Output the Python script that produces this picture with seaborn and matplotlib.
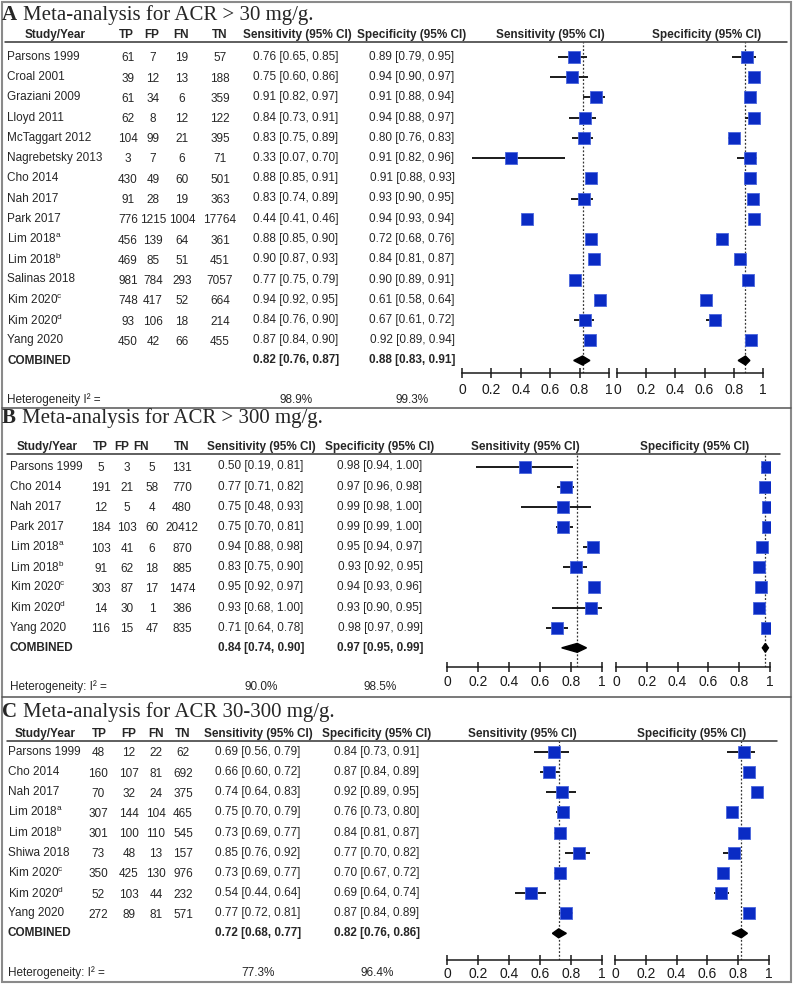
import numpy as np
import matplotlib
matplotlib.use('Agg')
import matplotlib.pyplot as plt
import seaborn as sns
from matplotlib import font_manager
from matplotlib.lines import Line2D
from matplotlib.patches import Rectangle

# ---------------- data ----------------
# panel A : ACR > 30 mg/g
a_names = ['Parsons 1999', 'Croal 2001', 'Graziani 2009', 'Lloyd 2011', 'McTaggart 2012',
           'Nagrebetsky 2013', 'Cho 2014', 'Nah 2017', 'Park 2017',
           'Lim 2018$^{a}$', 'Lim 2018$^{b}$', 'Salinas 2018', 'Kim 2020$^{c}$',
           'Kim 2020$^{d}$', 'Yang 2020']
a_tp = [61, 39, 61, 62, 104, 3, 430, 91, 776, 456, 469, 981, 748, 93, 450]
a_fp = [7, 12, 34, 8, 99, 7, 49, 28, 1215, 139, 85, 784, 417, 106, 42]
a_fn = [19, 13, 6, 12, 21, 6, 60, 19, 1004, 64, 51, 293, 52, 18, 66]
a_tn = [57, 188, 359, 122, 395, 71, 501, 363, 17764, 361, 451, 7057, 664, 214, 455]
a_sens = [0.76, 0.75, 0.91, 0.84, 0.83, 0.33, 0.88, 0.83, 0.44, 0.88, 0.90, 0.77, 0.94, 0.84, 0.87]
a_sens_lo = [0.65, 0.60, 0.82, 0.73, 0.75, 0.07, 0.85, 0.74, 0.41, 0.85, 0.87, 0.75, 0.92, 0.76, 0.84]
a_sens_hi = [0.85, 0.86, 0.97, 0.91, 0.89, 0.70, 0.91, 0.89, 0.46, 0.90, 0.93, 0.79, 0.95, 0.90, 0.90]
a_spec = [0.89, 0.94, 0.91, 0.94, 0.80, 0.91, 0.91, 0.93, 0.94, 0.72, 0.84, 0.90, 0.61, 0.67, 0.92]
a_spec_lo = [0.79, 0.90, 0.88, 0.88, 0.76, 0.82, 0.88, 0.90, 0.93, 0.68, 0.81, 0.89, 0.58, 0.61, 0.89]
a_spec_hi = [0.95, 0.97, 0.94, 0.97, 0.83, 0.96, 0.93, 0.95, 0.94, 0.76, 0.87, 0.91, 0.64, 0.72, 0.94]
a_comb_sens = [0.82, 0.76, 0.87]
a_comb_spec = [0.88, 0.83, 0.91]
a_het = ['98.9%', '99.3%']

# panel B : ACR > 300 mg/g
b_names = ['Parsons 1999', 'Cho 2014', 'Nah 2017', 'Park 2017', 'Lim 2018$^{a}$',
           'Lim 2018$^{b}$', 'Kim 2020$^{c}$', 'Kim 2020$^{d}$', 'Yang 2020']
b_tp = [5, 191, 12, 184, 103, 91, 303, 14, 116]
b_fp = [3, 21, 5, 103, 41, 62, 87, 30, 15]
b_fn = [5, 58, 4, 60, 6, 18, 17, 1, 47]
b_tn = [131, 770, 480, 20412, 870, 885, 1474, 386, 835]
b_sens = [0.50, 0.77, 0.75, 0.75, 0.94, 0.83, 0.95, 0.93, 0.71]
b_sens_lo = [0.19, 0.71, 0.48, 0.70, 0.88, 0.75, 0.92, 0.68, 0.64]
b_sens_hi = [0.81, 0.82, 0.93, 0.81, 0.98, 0.90, 0.97, 1.00, 0.78]
b_spec = [0.98, 0.97, 0.99, 0.99, 0.95, 0.93, 0.94, 0.93, 0.98]
b_spec_lo = [0.94, 0.96, 0.98, 0.99, 0.94, 0.92, 0.93, 0.90, 0.97]
b_spec_hi = [1.00, 0.98, 1.00, 1.00, 0.97, 0.95, 0.96, 0.95, 0.99]
b_comb_sens = [0.84, 0.74, 0.90]
b_comb_spec = [0.97, 0.95, 0.99]
b_het = ['90.0%', '98.5%']

# panel C : ACR 30-300 mg/g
c_names = ['Parsons 1999', 'Cho 2014', 'Nah 2017', 'Lim 2018$^{a}$', 'Lim 2018$^{b}$',
           'Shiwa 2018', 'Kim 2020$^{c}$', 'Kim 2020$^{d}$', 'Yang 2020']
c_tp = [48, 160, 70, 307, 301, 73, 350, 52, 272]
c_fp = [12, 107, 32, 144, 100, 48, 425, 103, 89]
c_fn = [22, 81, 24, 104, 110, 13, 130, 44, 81]
c_tn = [62, 692, 375, 465, 545, 157, 976, 232, 571]
c_sens = [0.69, 0.66, 0.74, 0.75, 0.73, 0.85, 0.73, 0.54, 0.77]
c_sens_lo = [0.56, 0.60, 0.64, 0.70, 0.69, 0.76, 0.69, 0.44, 0.72]
c_sens_hi = [0.79, 0.72, 0.83, 0.79, 0.77, 0.92, 0.77, 0.64, 0.81]
c_spec = [0.84, 0.87, 0.92, 0.76, 0.84, 0.77, 0.70, 0.69, 0.87]
c_spec_lo = [0.73, 0.84, 0.89, 0.73, 0.81, 0.70, 0.67, 0.64, 0.84]
c_spec_hi = [0.91, 0.89, 0.95, 0.80, 0.87, 0.82, 0.72, 0.74, 0.89]
c_comb_sens = [0.72, 0.68, 0.77]
c_comb_spec = [0.82, 0.76, 0.86]
c_het = ['77.3%', '96.4%']

col_heads = ['TP', 'FP', 'FN', 'TN', 'Sensitivity (95% CI)', 'Specificity (95% CI)']
tick_vals = [0, 0.2, 0.4, 0.6, 0.8, 1]
tick_text = ['0', '0.2', '0.4', '0.6', '0.8', '1']

# ---------------- style ----------------
sns.set_style('white')
plt.rcParams['font.family'] = ['Liberation Sans', 'DejaVu Sans']
plt.rcParams['mathtext.default'] = 'regular'

try:
    font_manager.findfont('Liberation Sans Narrow', fallback_to_default=False)
    tick_font, tick_size = 'Liberation Sans Narrow', 12
except ValueError:
    tick_font, tick_size = 'Liberation Sans', 10

W, H = 794, 985
fig = plt.figure(figsize=(W / 100, H / 100), dpi=100)
fig.patch.set_facecolor('white')


def fx(x):
    return x / W


def fy(y):
    return 1 - y / H


def ci(v, lo, hi):
    return f'{v:.2f} [{lo:.2f}, {hi:.2f}]'


panels = [
    dict(letter='A', title='Meta-analysis for ACR > 30 mg/g.', title_y=20,
         head_y=35, line_y=42, line_x=(5, 787), row0=56.75, step=20.25,
         axis_y=373, tick_pad=3.5, het_y=400, het_label='Heterogeneity I² =',
         name_x=7, study_x=55, head_x=[126, 152, 181, 220, 297, 412],
         val_x=[128, 153, 182, 220, 296, 412],
         sens_ax=(462, 609), spec_ax=(617, 763), fhead_x=(550, 707),
         names=a_names, counts=[a_tp, a_fp, a_fn, a_tn],
         sens=(a_sens, a_sens_lo, a_sens_hi), spec=(a_spec, a_spec_lo, a_spec_hi),
         comb_sens=a_comb_sens, comb_spec=a_comb_spec, het=a_het),
    dict(letter='B', title='Meta-analysis for ACR > 300 mg/g.', title_y=423,
         head_y=447, line_y=454, line_x=(7, 780), row0=466.5, step=20.15,
         axis_y=667, tick_pad=2.5, het_y=687, het_label='Heterogeneity: I² =',
         name_x=10, study_x=47, head_x=[100, 122, 141, 182, 261, 380],
         val_x=[101, 127, 152, 182, 261, 380],
         sens_ax=(447, 602), spec_ax=(616, 770), fhead_x=(525, 695),
         names=b_names, counts=[b_tp, b_fp, b_fn, b_tn],
         sens=(b_sens, b_sens_lo, b_sens_hi), spec=(b_spec, b_spec_lo, b_spec_hi),
         comb_sens=b_comb_sens, comb_spec=b_comb_spec, het=b_het),
    dict(letter='C', title='Meta-analysis for ACR 30-300 mg/g.', title_y=717,
         head_y=734, line_y=741, line_x=(7, 777), row0=752, step=20.15,
         axis_y=960, tick_pad=1.5, het_y=973, het_label='Heterogeneity: I² =',
         name_x=8, study_x=45, head_x=[99, 129, 156, 183, 258, 377],
         val_x=[98, 129, 156, 183, 258, 377],
         sens_ax=(447, 602), spec_ax=(615, 769), fhead_x=(522, 692),
         names=c_names, counts=[c_tp, c_fp, c_fn, c_tn],
         sens=(c_sens, c_sens_lo, c_sens_hi), spec=(c_spec, c_spec_lo, c_spec_hi),
         comb_sens=c_comb_sens, comb_spec=c_comb_spec, het=c_het),
]

FS = 8.5
renderer = fig.canvas.get_renderer()


def forest(p, xr, est, lo, hi, comb):
    x0, x1 = xr
    ax = fig.add_axes([fx(x0), fy(p['axis_y']), (x1 - x0) / W,
                       (p['axis_y'] - p['line_y']) / H])
    n = len(est)
    rows = np.arange(n)
    ax.set_xlim(0, 1)
    ax.set_ylim((p['axis_y'] - p['row0']) / p['step'],
                (p['line_y'] - p['row0']) / p['step'])
    ax.axvline(comb[0], color='#333333', lw=0.9, ls=(0, (1.5, 1.5)), zorder=1)
    ax.hlines(rows, lo, hi, color='#1a1a1a', lw=1.4, zorder=2)
    sns.scatterplot(x=est, y=rows, marker='s', s=68, color='#0a2bc4',
                    edgecolor='#4a66dd', linewidth=0.6, ax=ax, zorder=3, legend=False)
    ax.fill([comb[1], comb[0], comb[2], comb[0]], [n, n - 0.22, n, n + 0.22],
            color='black', zorder=3)
    for sp in ['top', 'left', 'right']:
        ax.spines[sp].set_visible(False)
    ax.spines['bottom'].set_color('#1a1a1a')
    ax.spines['bottom'].set_linewidth(1.1)
    ax.set_xticks(tick_vals)
    ax.set_xticklabels(tick_text, fontfamily=tick_font, fontsize=tick_size)
    ax.tick_params(axis='x', direction='inout', length=7, width=1.1,
                   colors='#1a1a1a', pad=p['tick_pad'], bottom=True)
    ax.set_yticks([])
    ax.set_xlabel('')
    ax.set_ylabel('')
    ax.patch.set_alpha(0)
    return ax


for p in panels:
    # title: bold letter + serif text
    t = fig.text(fx(2), fy(p['title_y']), p['letter'], family='Liberation Serif',
                 weight='bold', size=15, va='baseline', ha='left')
    bb = t.get_window_extent(renderer)
    fig.text((bb.x1 + 6) / W, fy(p['title_y']), p['title'], family='Liberation Serif',
             size=15, va='baseline', ha='left')

    # header row
    fig.text(fx(p['study_x']), fy(p['head_y']), 'Study/Year', weight='bold',
             size=FS, ha='center', va='center')
    for x, s in zip(p['head_x'], col_heads):
        fig.text(fx(x), fy(p['head_y']), s, weight='bold', size=FS, ha='center', va='center')
    for x, s in zip(p['fhead_x'], col_heads[4:]):
        fig.text(fx(x), fy(p['head_y']), s, weight='bold', size=FS, ha='center', va='center')
    fig.add_artist(Line2D([fx(p['line_x'][0]), fx(p['line_x'][1])],
                          [fy(p['line_y'])] * 2, color='#333333', lw=1.1))

    # study rows
    n = len(p['names'])
    for i in range(n):
        y = p['row0'] + i * p['step']
        fig.text(fx(p['name_x']), fy(y), p['names'][i], size=FS, ha='left', va='center')
        for k in range(4):
            fig.text(fx(p['val_x'][k]), fy(y + 1.5), str(p['counts'][k][i]), size=FS,
                     ha='center', va='center')
        fig.text(fx(p['val_x'][4]), fy(y), ci(p['sens'][0][i], p['sens'][1][i], p['sens'][2][i]),
                 size=FS, ha='center', va='center')
        fig.text(fx(p['val_x'][5]), fy(y), ci(p['spec'][0][i], p['spec'][1][i], p['spec'][2][i]),
                 size=FS, ha='center', va='center')

    # combined row
    yc = p['row0'] + n * p['step']
    fig.text(fx(p['name_x']), fy(yc), 'COMBINED', size=FS, weight='bold', ha='left', va='center')
    fig.text(fx(p['val_x'][4]), fy(yc), ci(*p['comb_sens']), size=FS, weight='bold',
             ha='center', va='center')
    fig.text(fx(p['val_x'][5]), fy(yc), ci(*p['comb_spec']), size=FS, weight='bold',
             ha='center', va='center')

    # heterogeneity
    fig.text(fx(p['name_x']), fy(p['het_y']), p['het_label'], size=FS, ha='left', va='center')
    fig.text(fx(p['val_x'][4]), fy(p['het_y']), p['het'][0], size=FS, ha='center', va='center')
    fig.text(fx(p['val_x'][5]), fy(p['het_y']), p['het'][1], size=FS, ha='center', va='center')

    # forest plots
    forest(p, p['sens_ax'], *p['sens'], p['comb_sens'])
    forest(p, p['spec_ax'], *p['spec'], p['comb_spec'])

# frame and panel dividers
fig.add_artist(Rectangle((fx(1.5), fy(982)), 789.5 / W, 980.5 / H, transform=fig.transFigure,
                         fill=False, edgecolor='#8a8a8a', lw=1.5))
for yd in [408, 697]:
    fig.add_artist(Line2D([fx(1.5), fx(791)], [fy(yd)] * 2, color='#555555', lw=1.1))

fig.savefig('out.png', dpi=100, facecolor='white')
